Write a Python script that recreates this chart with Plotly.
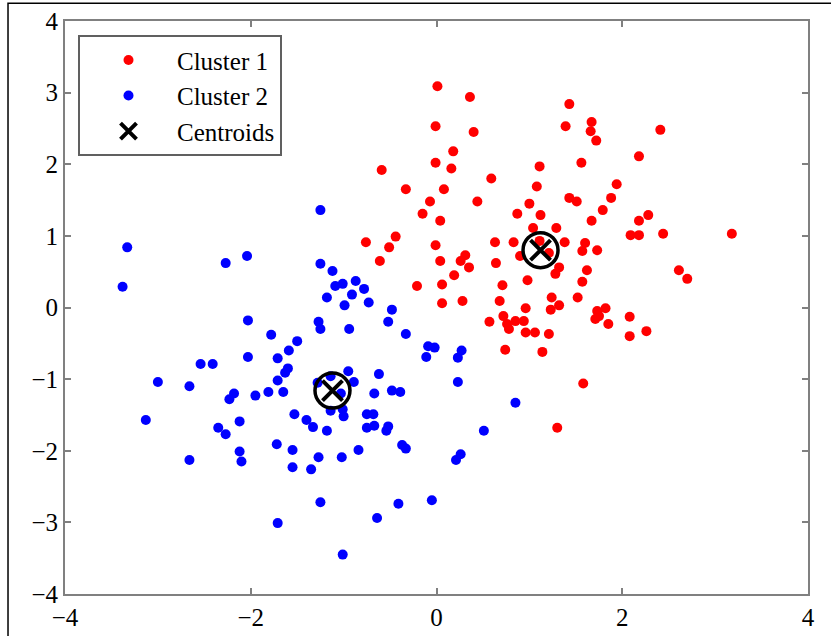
import plotly.graph_objects as go

# ---- data ----
cluster1_x = [0.01, 0.36, 1.43, -0.01, 0.40, 1.39, 1.67, 1.66, 1.72, 2.41,
              0.18, -0.01, 0.16, 1.11, 1.56, 2.18, 0.59, -0.33, 0.08, 1.08,
              1.94, -0.07, 0.44, 1.00, 1.43, 1.51, 1.88, -0.15, 0.04, 0.87,
              1.12, 1.79, 1.67, 2.28, 2.18, 2.09, 2.18, 2.44, -0.44, -0.01,
              0.63, 0.83, 1.04, 1.29, 1.38, 1.60, 1.57, 1.73, 3.18, 0.31,
              0.35, 0.26, 0.64, 0.90, 1.11, 1.21, 1.32, 1.28, 1.62, 0.98,
              1.57, 0.71, 2.61, 2.70, 0.28, 0.68, 1.24, 1.32, 1.23, 1.52,
              0.96, 1.73, 1.82, 1.71, 1.85, 1.75, 2.08, 2.08, 2.26, 0.57,
              0.72, 0.78, 0.85, 0.94, 0.96, 1.06, 0.76, 1.21, 0.74, 1.14,
              1.58, 1.30, -0.59, -0.76, -0.51, -0.61, 0.04, 0.19, -0.21, 0.06,
              0.06]
cluster1_y = [3.09, 2.94, 2.84, 2.53, 2.45, 2.53, 2.59, 2.46, 2.33, 2.48,
              2.18, 2.02, 1.94, 1.97, 2.02, 2.11, 1.80, 1.65, 1.65, 1.69,
              1.72, 1.48, 1.48, 1.45, 1.53, 1.48, 1.53, 1.31, 1.21, 1.31,
              1.29, 1.36, 1.21, 1.29, 1.21, 1.01, 1.01, 1.03, 0.99, 0.87,
              0.91, 0.91, 1.11, 1.11, 0.91, 0.90, 0.79, 0.80, 1.03, 0.73,
              0.56, 0.65, 0.62, 0.72, 0.93, 0.76, 0.56, 0.47, 0.52, 0.38,
              0.36, 0.31, 0.52, 0.40, 0.09, 0.09, 0.14, 0.03, -0.03, 0.14,
              -0.01, -0.05, -0.01, -0.16, -0.23, -0.12, -0.13, -0.40, -0.33, -0.20,
              -0.12, -0.30, -0.19, -0.19, -0.35, -0.35, -0.23, -0.37, -0.59, -0.62,
              -1.06, -1.68, 1.92, 0.91, 0.84, 0.65, 0.65, 0.45, 0.30, 0.32,
              0.06]

cluster2_x = [-3.33, -3.38, -2.27, -2.04, -1.25, -1.25, -1.12, -1.09, -1.01, -0.87,
              -0.78, -0.91, -1.18, -0.99, -0.73, -0.48, -0.52, -1.27, -1.25, -0.94,
              -0.33, -1.50, -1.59, -0.09, -0.02, 0.27, -0.11, 0.23, 0.23, 0.85,
              0.51, 0.26, 0.21, -2.03, -1.78, -2.54, -2.41, -2.03, -1.71, -1.60,
              -1.63, -1.71, -3.00, -2.66, -2.18, -2.23, -1.95, -1.81, -1.65, -1.28,
              -3.13, -2.12, -2.35, -2.27, -1.53, -1.40, -1.33, -1.18, -1.72, -1.55,
              -1.27, -2.12, -2.10, -2.66, -1.55, -1.35, -1.25, -1.71, -1.01, -1.02,
              -0.95, -0.89, -0.62, -0.67, -0.48, -0.39, -1.14, -1.00, -1.01, -0.75,
              -0.68, -0.75, -0.67, -0.52, -0.54, -0.37, -0.33, -0.84, -0.41, -0.05,
              -0.64, -1.14, -1.03]
cluster2_y = [0.84, 0.29, 0.62, 0.72, 1.36, 0.61, 0.51, 0.30, 0.33, 0.37,
              0.26, 0.18, 0.14, 0.03, 0.07, -0.03, -0.20, -0.20, -0.30, -0.30,
              -0.37, -0.47, -0.60, -0.54, -0.56, -0.60, -0.69, -0.70, -1.04, -1.33,
              -1.72, -2.05, -2.13, -0.18, -0.38, -0.79, -0.79, -0.69, -0.71, -0.85,
              -0.91, -1.02, -1.04, -1.10, -1.20, -1.28, -1.23, -1.18, -1.18, -1.05,
              -1.57, -1.59, -1.68, -1.77, -1.49, -1.57, -1.67, -1.72, -1.91, -1.99,
              -2.09, -2.01, -2.15, -2.13, -2.23, -2.26, -2.72, -3.01, -3.45, -2.09,
              -0.89, -1.04, -0.93, -1.20, -1.16, -1.18, -1.44, -1.52, -1.42, -1.49,
              -1.49, -1.68, -1.65, -1.66, -1.72, -1.92, -1.97, -1.99, -2.74, -2.69,
              -2.94, -0.96, -1.20]

centroid_x = [1.12, -1.12]
centroid_y = [0.80, -1.16]

tick_x = [-4, -2, 0, 2, 4]
tick_y = [-4, -3, -2, -1, 0, 1, 2, 3, 4]

FONT = "Liberation Serif, Times New Roman, serif"

fig = go.Figure()
fig.add_trace(go.Scatter(x=cluster1_x, y=cluster1_y, mode="markers", name="Cluster 1",
                         marker=dict(color="#ff0000", size=10, line=dict(width=0))))
fig.add_trace(go.Scatter(x=cluster2_x, y=cluster2_y, mode="markers", name="Cluster 2",
                         marker=dict(color="#0000ff", size=10, line=dict(width=0))))
fig.add_trace(go.Scatter(x=centroid_x, y=centroid_y, mode="markers", showlegend=False,
                         marker=dict(symbol="circle-open", size=35, color="black",
                                     line=dict(width=3.5, color="black"))))
fig.add_trace(go.Scatter(x=centroid_x, y=centroid_y, mode="markers", name="Centroids",
                         marker=dict(symbol="x-thin-open", size=20, color="black",
                                     line=dict(width=4, color="black"))))

axis_common = dict(
    showline=True, linecolor="#808080", linewidth=2, mirror="ticks",
    ticks="inside", ticklen=6, tickwidth=2, tickcolor="#808080",
    showgrid=False, zeroline=False, range=[-4, 4], automargin=False,
    tickfont=dict(family=FONT, size=25, color="black"),
)

fig.update_xaxes(tickvals=tick_x, **axis_common)
fig.update_yaxes(tickvals=tick_y, **axis_common)

fig.update_layout(
    width=831, height=636,
    margin=dict(l=65, r=23, t=21, b=42),
    paper_bgcolor="white", plot_bgcolor="white",
    font=dict(family=FONT, color="black"),
    legend=dict(x=0.0175, y=0.975, xanchor="left", yanchor="top",
                bgcolor="white", bordercolor="#606060", borderwidth=2,
                font=dict(family=FONT, size=25, color="black"),
                itemwidth=87, tracegroupgap=0,
                entrywidth=205, entrywidthmode="pixels"),
    shapes=[dict(type="rect", xref="paper", yref="paper",
                 x0=-0.0767, x1=1.05, y0=-0.1, y1=1.031,
                 line=dict(color="black", width=1.5), layer="below")],
)

fig.write_html("out.html",
               config={"displayModeBar": False},
               post_script="document.body.style.margin='0';document.body.style.overflow='hidden';")
